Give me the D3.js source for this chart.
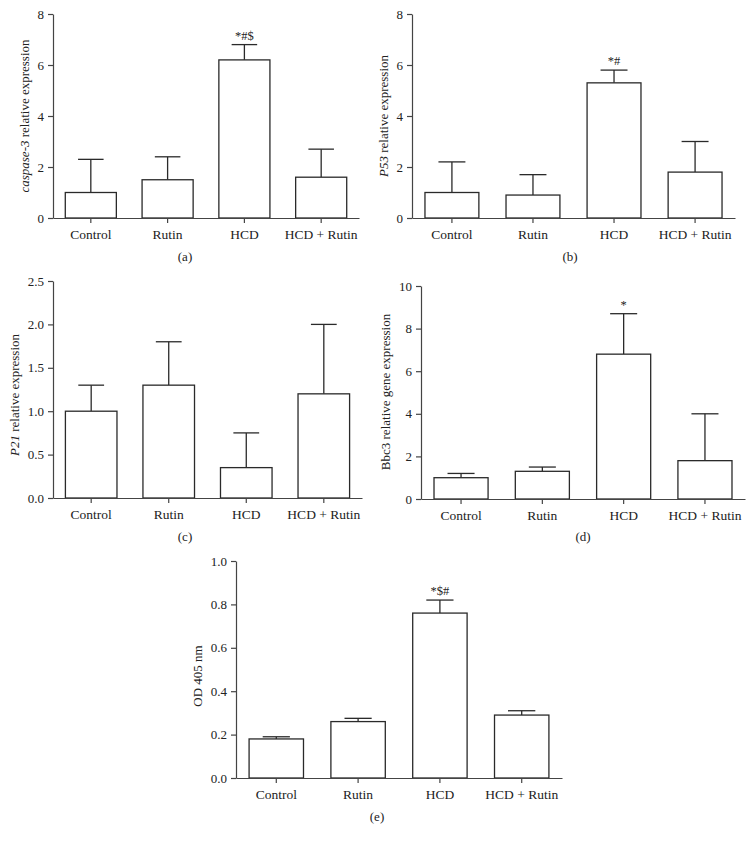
<!DOCTYPE html>
<html>
<head>
<meta charset="utf-8">
<script src="https://cdn.jsdelivr.net/npm/d3@7"></script>
<style>
  html, body { margin: 0; padding: 0; background: #fff; }
  svg { display: block; }
  text { font-family: "Liberation Serif", "DejaVu Serif", serif; fill: #222; }
</style>
</head>
<body>
<svg id="chart" width="753" height="843"></svg>
<script>
const categories = ["Control", "Rutin", "HCD", "HCD + Rutin"];

const caspase3Mean = [1.0, 1.5, 6.2, 1.6];
const caspase3Err  = [1.3, 0.9, 0.6, 1.1];
const caspase3Ticks = [0, 2, 4, 6, 8];

const p53Mean = [1.0, 0.9, 5.3, 1.8];
const p53Err  = [1.2, 0.8, 0.5, 1.2];
const p53Ticks = [0, 2, 4, 6, 8];

const p21Mean = [1.0, 1.3, 0.35, 1.2];
const p21Err  = [0.3, 0.5, 0.4, 0.8];
const p21Ticks = [0, 0.5, 1.0, 1.5, 2.0, 2.5];

const bbc3Mean = [1.0, 1.3, 6.8, 1.8];
const bbc3Err  = [0.2, 0.2, 1.9, 2.2];
const bbc3Ticks = [0, 2, 4, 6, 8, 10];

const odMean = [0.18, 0.26, 0.76, 0.29];
const odErr  = [0.01, 0.015, 0.06, 0.02];
const odTicks = [0, 0.2, 0.4, 0.6, 0.8, 1.0];

const annotations = {a: ["", "", "*#$", ""], b: ["", "", "*#", ""], c: ["", "", "", ""], d: ["", "", "*", ""], e: ["", "", "*$#", ""]};

const svg = d3.select("#chart");

function panel(cfg) {
  const g = svg.append("g");
  const x = d3.scaleBand().domain(categories).range([cfg.x0, cfg.x1])
    .paddingInner(0.335).paddingOuter(0.16);
  const y = d3.scaleLinear().domain([0, cfg.max]).range([cfg.yb, cfg.yt]);
  const data = categories.map((c, i) => ({c, m: cfg.mean[i], e: cfg.err[i], a: cfg.ann[i]}));
  const bw = x.bandwidth();

  // error bars (upper only)
  const eb = g.append("g").attr("stroke", "#2a2a2a").attr("stroke-width", 1.3);
  data.forEach(d => {
    const cx = x(d.c) + bw / 2;
    eb.append("line").attr("x1", cx).attr("x2", cx).attr("y1", y(d.m)).attr("y2", y(d.m + d.e));
    eb.append("line").attr("x1", cx - bw / 4).attr("x2", cx + bw / 4)
      .attr("y1", y(d.m + d.e)).attr("y2", y(d.m + d.e));
  });

  // bars
  g.append("g").selectAll("rect").data(data).join("rect")
    .attr("x", d => x(d.c)).attr("width", bw)
    .attr("y", d => y(d.m)).attr("height", d => y(0) - y(d.m))
    .attr("fill", "#fff").attr("stroke", "#2a2a2a").attr("stroke-width", 1.3);

  // annotations
  g.append("g").selectAll("text").data(data.filter(d => d.a)).join("text")
    .attr("x", d => x(d.c) + bw / 2).attr("y", d => y(d.m + d.e) - 5)
    .attr("text-anchor", "middle").attr("font-size", 12.5).text(d => d.a);

  // y axis
  const ya = g.append("g").attr("transform", `translate(${cfg.x0},0)`)
    .call(d3.axisLeft(y).tickValues(cfg.ticks).tickFormat(d3.format(cfg.fmt)).tickSize(5).tickSizeOuter(0));
  ya.selectAll("text").attr("font-size", 13).attr("fill", "#222").attr("x", -9);

  // x axis
  const xa = g.append("g").attr("transform", `translate(0,${cfg.yb})`)
    .call(d3.axisBottom(x).tickSize(5).tickSizeOuter(0));
  xa.selectAll("text").attr("font-size", 13.5).attr("fill", "#222").attr("y", 0).attr("dy", "21px");

  [ya, xa].forEach(a => {
    a.attr("font-family", null);
    a.selectAll("path,line").attr("stroke", "#444").attr("stroke-width", 1.2);
  });

  // y title
  const t = g.append("text")
    .attr("transform", `translate(${cfg.tx},${cfg.ty}) rotate(-90)`)
    .attr("text-anchor", "middle").attr("font-size", 13);
  cfg.title.forEach(p => {
    t.append("tspan").attr("font-style", p.i ? "italic" : "normal").text(p.t);
  });

  // panel label
  g.append("text").attr("x", cfg.lx).attr("y", cfg.ly).attr("text-anchor", "middle")
    .attr("font-size", 13).text(cfg.label);
}

panel({x0: 53, x1: 359, yb: 218, yt: 14, max: 8, ticks: caspase3Ticks, fmt: "d",
  mean: caspase3Mean, err: caspase3Err, ann: annotations.a,
  title: [{t: "caspase-3", i: true}, {t: " relative expression"}], tx: 29, ty: 116,
  label: "(a)", lx: 185, ly: 261});

panel({x0: 412, x1: 735, yb: 218, yt: 14, max: 8, ticks: p53Ticks, fmt: "d",
  mean: p53Mean, err: p53Err, ann: annotations.b,
  title: [{t: "P53", i: true}, {t: " relative expression"}], tx: 388, ty: 116,
  label: "(b)", lx: 570, ly: 261});

panel({x0: 53, x1: 362, yb: 498, yt: 281, max: 2.5, ticks: p21Ticks, fmt: ".1f",
  mean: p21Mean, err: p21Err, ann: annotations.c,
  title: [{t: "P21", i: true}, {t: " relative expression"}], tx: 19, ty: 395,
  label: "(c)", lx: 185, ly: 541});

panel({x0: 421, x1: 745, yb: 499, yt: 286, max: 10, ticks: bbc3Ticks, fmt: "d",
  mean: bbc3Mean, err: bbc3Err, ann: annotations.d,
  title: [{t: "Bbc3 relative gene expression"}], tx: 390, ty: 392,
  label: "(d)", lx: 583, ly: 541});

panel({x0: 236, x1: 562, yb: 778, yt: 561, max: 1.0, ticks: odTicks, fmt: ".1f",
  mean: odMean, err: odErr, ann: annotations.e,
  title: [{t: "OD 405 nm"}], tx: 202, ty: 676,
  label: "(e)", lx: 377, ly: 821});
</script>
</body>
</html>
